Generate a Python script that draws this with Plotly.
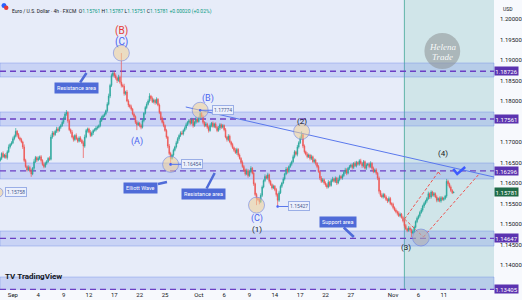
import pandas as pd
import plotly.graph_objects as go

# ---------------- data (EUR/USD, 4h, FXCM) ----------------
# 4h closes in pips above 1.1000 (e.g. 668 -> 1.1668); one row per trading day
close_pips = [
    660, 672, 664,                      # Aug 28 (12:00-20:00)
    668, 662, 676, 688, 694, 698,       # Aug 29
    708, 714, 726, 718, 710, 706,       # Sep 1
    700, 688, 655, 640, 632, 638,       # Sep 2
    630, 622, 636, 652, 662, 656,       # Sep 3
    660, 664, 655, 645, 640, 648,       # Sep 4
    652, 660, 658, 712, 722, 718,       # Sep 5
    726, 732, 728, 736, 740, 748,       # Sep 8
    758, 768, 772, 752, 730, 724,       # Sep 9
    712, 706, 716, 708, 702, 710,       # Sep 10
    704, 698, 690, 712, 728, 732,       # Sep 11
    724, 716, 722, 728, 730, 734,       # Sep 12
    736, 740, 752, 760, 764, 768,       # Sep 15
    776, 792, 812, 838, 862, 868,       # Sep 16
    862, 856, 850, 858, 846, 838,       # Sep 17
    836, 818, 822, 800, 790, 786,       # Sep 18
    780, 768, 762, 748, 742, 746,       # Sep 19
    740, 736, 752, 770, 784, 792,       # Sep 22
    800, 812, 806, 798, 802, 796,       # Sep 23
    804, 790, 772, 758, 748, 740,       # Sep 24
    728, 712, 690, 672, 660, 668,       # Sep 25
    680, 688, 698, 708, 716, 722,       # Sep 26
    720, 728, 734, 742, 748, 752,       # Sep 29
    746, 754, 740, 748, 756, 750,       # Sep 30
    758, 770, 762, 748, 740, 744,       # Oct 1
    736, 728, 740, 746, 738, 744,       # Oct 2
    736, 728, 734, 742, 736, 740,       # Oct 3
    730, 712, 706, 714, 700, 694,       # Oct 6
    686, 680, 674, 682, 668, 660,       # Oct 7
    650, 640, 632, 622, 630, 618,       # Oct 8
    628, 636, 624, 598, 572, 562,       # Oct 9
    560, 554, 570, 590, 606, 616,       # Oct 10
    612, 620, 604, 596, 588, 592,       # Oct 13
    584, 572, 558, 576, 592, 600,       # Oct 14
    610, 622, 634, 628, 640, 646,       # Oct 15
    652, 664, 676, 670, 688, 698,       # Oct 16
    710, 718, 690, 676, 670, 664,       # Oct 17
    668, 660, 664, 652, 656, 648,       # Oct 20
    640, 628, 612, 604, 608, 600,       # Oct 21
    596, 590, 602, 594, 606, 610,       # Oct 22
    604, 612, 600, 608, 616, 612,       # Oct 23
    618, 626, 632, 624, 636, 640,       # Oct 24
    644, 638, 648, 642, 650, 646,       # Oct 27
    654, 648, 642, 652, 636, 644,       # Oct 28
    646, 640, 648, 636, 628, 632,       # Oct 29
    624, 612, 580, 570, 566, 572,       # Oct 30
    566, 560, 556, 562, 550, 548,       # Oct 31
    540, 534, 530, 526, 520, 524,       # Nov 3
    516, 508, 496, 488, 484, 490,       # Nov 4
    486, 478, 482, 492, 506, 514,       # Nov 5
    520, 528, 534, 544, 550, 556,       # Nov 6
    562, 574, 566, 578, 570, 574,       # Nov 7
    566, 558, 562, 556, 564, 560,       # Nov 10
    562, 568, 604, 598, 590, 582,       # Nov 11
    576.1, 578.1,                       # Nov 12 (00:00, 04:00)
]
# upper / lower wick length beyond the candle body, in pips
up_wick_pips = [
    4, 3, 5,
    3, 5, 4, 6, 3, 4,
    5, 4, 8, 3, 4, 3,
    4, 3, 6, 4, 3, 5,
    4, 5, 3, 6, 4, 3,
    5, 3, 4, 3, 5, 4,
    4, 3, 5, 6, 5, 4,
    3, 5, 4, 3, 4, 5,
    4, 5, 6, 3, 4, 3,
    5, 4, 3, 5, 3, 4,
    4, 3, 5, 6, 4, 3,
    3, 5, 4, 3, 4, 5,
    4, 3, 5, 4, 3, 4,
    3, 5, 6, 4, 5, 6,
    4, 5, 3, 6, 4, 71,
    4, 6, 3, 5, 4, 3,
    5, 3, 4, 3, 5, 4,
    3, 4, 5, 3, 4, 5,
    4, 7, 3, 5, 4, 3,
    5, 3, 4, 3, 4, 5,
    3, 4, 3, 5, 4, 3,
    4, 3, 5, 4, 3, 4,
    5, 3, 4, 5, 3, 4,
    4, 5, 3, 4, 5, 3,
    4, 7.4, 3, 4, 3, 5,
    3, 4, 5, 3, 4, 3,
    4, 3, 5, 4, 3, 4,
    3, 4, 3, 5, 4, 3,
    4, 3, 5, 4, 3, 4,
    3, 5, 4, 3, 5, 4,
    4, 5, 3, 4, 3, 4,
    3, 4, 5, 4, 3, 5,
    4, 5, 3, 4, 3, 4,
    3, 4, 3, 5, 4, 3,
    4, 3, 5, 4, 3, 4,
    3, 5, 4, 3, 5, 4,
    4, 8, 3, 4, 3, 5,
    4, 3, 5, 3, 4, 3,
    3, 4, 3, 5, 4, 3,
    4, 3, 5, 3, 4, 5,
    3, 4, 3, 5, 4, 3,
    4, 3, 5, 4, 3, 4,
    3, 4, 3, 5, 4, 3,
    4, 5, 3, 4, 3, 4,
    3, 4, 5, 3, 4, 3,
    4, 3, 4, 3, 5, 4,
    3, 4, 3, 5, 4, 3,
    4, 3, 4, 3, 5, 4,
    3, 4, 3, 4, 3, 5,
    4, 3, 5, 4, 3, 4,
    3, 4, 5, 3, 4, 3,
    4, 5, 3, 4, 3, 4,
    3, 4, 3, 5, 4, 3,
    4, 3, 6, 4, 3, 4,
    3, 0.6,
]
down_wick_pips = [
    3, 4, 3,
    4, 3, 5, 3, 4, 3,
    3, 4, 3, 5, 3, 4,
    3, 5, 4, 3, 4, 3,
    4, 7, 3, 4, 3, 5,
    3, 4, 5, 3, 4, 3,
    4, 3, 4, 3, 4, 5,
    3, 4, 5, 3, 4, 3,
    4, 3, 4, 5, 3, 4,
    3, 5, 4, 3, 4, 3,
    4, 3, 29, 4, 3, 5,
    3, 4, 3, 5, 3, 4,
    4, 3, 4, 3, 4, 3,
    3, 4, 3, 5, 4, 3,
    5, 4, 6, 3, 4, 5,
    3, 5, 4, 3, 5, 4,
    4, 3, 5, 4, 13, 3,
    4, 5, 3, 4, 3, 4,
    3, 4, 5, 3, 4, 5,
    4, 3, 4, 5, 3, 4,
    3, 4, 5, 4, 14.6, 3,
    4, 3, 4, 3, 5, 4,
    3, 4, 3, 4, 3, 5,
    4, 3, 5, 3, 4, 3,
    3, 4, 3, 5, 4, 3,
    4, 5, 3, 4, 3, 4,
    3, 4, 3, 5, 4, 3,
    4, 3, 5, 4, 3, 5,
    3, 4, 3, 5, 4, 3,
    4, 3, 5, 4, 3, 5,
    3, 4, 3, 5, 4, 16,
    4, 6, 3, 4, 3, 4,
    3, 4, 5, 3, 4, 3,
    4, 5, 15.3, 4, 3, 4,
    3, 4, 3, 5, 4, 3,
    4, 3, 4, 3, 5, 4,
    3, 4, 5, 4, 3, 4,
    3, 5, 4, 3, 4, 5,
    4, 3, 5, 4, 3, 4,
    5, 4, 3, 4, 3, 4,
    3, 4, 5, 3, 4, 3,
    4, 3, 4, 5, 3, 4,
    3, 5, 4, 3, 4, 3,
    4, 3, 5, 4, 3, 4,
    3, 4, 3, 5, 4, 3,
    4, 5, 6, 4, 3, 4,
    3, 4, 5, 3, 4, 5,
    4, 3, 4, 5, 3, 4,
    3, 4, 5, 3, 4, 3,
    4, 10, 3, 4, 3, 4,
    3, 4, 3, 4, 5, 3,
    4, 3, 5, 4, 3, 4,
    3, 5, 4, 3, 4, 3,
    4, 3, 4, 5, 3, 4,
    3, 1.0,
]
first_open_pips = 655

levels = [1.18726, 1.17561, 1.16296, 1.14647, 1.13405]
level_labels = ["1.18726", "1.17561", "1.16296", "1.14647", "1.13405"]
band_lo = [1.18585, 1.17390, 1.16098, 1.14463, 1.13300]
band_hi = [1.18927, 1.17732, 1.16488, 1.14829, 1.13707]
last_price = 1.15781

price_ticks = [1.200, 1.195, 1.190, 1.185, 1.180, 1.170, 1.165,
               1.160, 1.155, 1.150, 1.145, 1.140]
tick_dates = ["2025-09-01", "2025-09-04", "2025-09-09", "2025-09-12", "2025-09-17",
              "2025-09-22", "2025-09-25", "2025-10-01", "2025-10-06", "2025-10-09",
              "2025-10-14", "2025-10-17", "2025-10-22", "2025-10-27", "2025-11-03",
              "2025-11-06", "2025-11-11"]
tick_text = ["Sep", "4", "9", "12", "17", "22", "25", "Oct", "6", "9",
             "14", "17", "22", "27", "Nov", "6", "11"]

# ---------------- build candles ----------------
days = pd.bdate_range("2025-08-28", "2025-11-12")
slots = [d + pd.Timedelta(hours=h) for d in days for h in range(0, 24, 4)]
times = slots[3:3 + len(close_pips)]

open_pips = [first_open_pips] + close_pips[:-1]
high_pips = [max(o, c) + u for o, c, u in zip(open_pips, close_pips, up_wick_pips)]
low_pips = [min(o, c) - w for o, c, w in zip(open_pips, close_pips, down_wick_pips)]
to_price = lambda v: round(1.1 + v / 10000.0, 5)
O = [to_price(v) for v in open_pips]
H = [to_price(v) for v in high_pips]
L = [to_price(v) for v in low_pips]
C = [to_price(v) for v in close_pips]

def at(ts):
    return times.index(pd.Timestamp(ts))

FONT = "Roboto, sans-serif"
PW, PH = 497.0, 290.0
def px(x): return x / PW
def py(y): return 1 - y / PH

fig = go.Figure(go.Candlestick(
    x=times, open=O, high=H, low=L, close=C,
    increasing=dict(line=dict(color="#26a69a", width=0.7), fillcolor="#26a69a"),
    decreasing=dict(line=dict(color="#ef5350", width=0.7), fillcolor="#ef5350"),
    whiskerwidth=0, showlegend=False, hoverinfo="skip"))

x_start, x_end = "2025-08-28 11:18", "2025-11-18 22:35"
shapes = []
annots = []

# green highlighted region + vertical marker
mark_t = "2025-11-04 08:00"
shapes.append(dict(type="rect", xref="x", yref="paper", x0=mark_t, x1=x_end, y0=0, y1=1,
                   fillcolor="rgba(140,210,185,0.24)", line=dict(width=0), layer="below"))
shapes.append(dict(type="line", xref="x", yref="paper", x0=mark_t, x1=mark_t, y0=0, y1=1,
                   line=dict(color="#5fb3a8", width=1), layer="below"))

# horizontal zones
for lo, hi in zip(band_lo, band_hi):
    shapes.append(dict(type="rect", xref="paper", yref="y", x0=0, x1=1, y0=lo, y1=hi,
                       fillcolor="rgba(95,125,230,0.22)",
                       line=dict(color="rgba(95,125,230,0.35)", width=1), layer="below"))
for lv in levels:
    shapes.append(dict(type="line", xref="paper", yref="y", x0=0, x1=1, y0=lv, y1=lv,
                       line=dict(color="#6c3fc4", width=1.3, dash="6px,4px"), layer="below"))

# descending trend line
shapes.append(dict(type="line", xref="x", yref="y", x0="2025-09-29 11:00", y0=1.17854,
                   x1=x_end, y1=1.16146, line=dict(color="#5a78ec", width=1)))

# red dashed channel (paper coords)
for (a, b), (c, d) in [((407, 219), (441, 172)), ((441, 172), (444, 176)),
                       ((407, 219), (426, 237)), ((426, 237), (482, 174))]:
    shapes.append(dict(type="line", xref="paper", yref="paper", x0=px(a), y0=py(b),
                       x1=px(c), y1=py(d), line=dict(color="#ef5350", width=1, dash="3px,2px")))

# blue check mark
shapes.append(dict(type="path", xref="paper", yref="paper",
                   path=f"M {px(456)},{py(169)} L {px(460)},{py(174)} L {px(468)},{py(167)}",
                   line=dict(color="#3d5afe", width=2.5)))

def circle(t, p, r=8, fill="rgba(238,208,150,0.55)"):
    shapes.append(dict(type="circle", xref="x", yref="y", xsizemode="pixel", ysizemode="pixel",
                       xanchor=t, yanchor=p, x0=-r, x1=r, y0=-r, y1=r,
                       fillcolor=fill, line=dict(color="rgba(100,125,230,0.55)", width=1)))

def label(text, t, p, color, size=9, dx=0, dy=0, bold=False):
    annots.append(dict(x=t, y=p, xref="x", yref="y", text=f"<b>{text}</b>" if bold else text,
                       showarrow=False, xshift=dx, yshift=dy,
                       font=dict(family=FONT, size=size, color=color)))

def price_tag(t, p, text, dx=22):
    shapes.append(dict(type="circle", xref="x", yref="y", xsizemode="pixel", ysizemode="pixel",
                       xanchor=t, yanchor=p, x0=-1.3, x1=1.3, y0=-1.3, y1=1.3,
                       fillcolor="#3d5afe", line=dict(width=0)))
    annots.append(dict(x=t, y=p, xref="x", yref="y", text=text, showarrow=True,
                       ax=dx, ay=0, arrowhead=0, arrowwidth=1, arrowcolor="#5a78ec",
                       standoff=0, bgcolor="rgba(236,240,252,0.95)", bordercolor="#9aaee6",
                       borderwidth=1, borderpad=1, font=dict(family=FONT, size=5, color="#4a5a90")))

BLUE, RED, DARK = "#4a63f0", "#e53935", "#202124"

# (B)/(C) spike
i = at("2025-09-17 20:00")
circle(times[i], H[i])
label("(C)", times[i], H[i], BLUE, 10, dy=11)
label("(B)", times[i], H[i], RED, 10, dy=22)
# (A)
i = at("2025-09-19 16:00")
label("(A)", times[i], L[i], BLUE, 9, dy=-11)
# Sep 25 low
i = at("2025-09-25 16:00")
circle(times[i], L[i])
price_tag(times[i], L[i], "1.16454", dx=21)
# (B) Oct 1
i = at("2025-10-01 04:00")
circle(times[i], H[i])
price_tag(times[i], H[i], "1.17774", dx=23)
label("(B)", times[i], H[i], BLUE, 9, dx=8, dy=12)
# (C)/(1)
i = at("2025-10-09 20:00")
circle(times[i], L[i])
label("(C)", times[i], L[i], BLUE, 9, dy=-13)
label("(1)", times[i], L[i], DARK, 8, dy=-24)
# Oct 14 low
i = at("2025-10-14 08:00")
price_tag(times[i], L[i], "1.15427", dx=21)
# (2)
i = at("2025-10-17 04:00")
circle(times[i], H[i])
label("(2)", times[i], H[i], DARK, 8, dy=10)
# (3)
i = at("2025-11-05 04:00")
label("(3)", times[i], L[i], DARK, 8, dx=-5, dy=-10)
shapes.append(dict(type="circle", xref="paper", yref="paper", x0=px(415), x1=px(432),
                   y0=py(246), y1=py(229), fillcolor="rgba(175,172,178,0.6)",
                   line=dict(color="rgba(100,125,230,0.55)", width=1)))
# (4)
annots.append(dict(x=px(453), y=py(153), xref="paper", yref="paper", text="(4)",
                   showarrow=False, font=dict(family=FONT, size=8, color=DARK)))

# callout boxes
def callout(text, tip, center):
    annots.append(dict(x=px(tip[0]), y=py(tip[1]), xref="paper", yref="paper", text=text,
                       showarrow=True, ax=center[0] - tip[0], ay=center[1] - tip[1],
                       arrowhead=0, arrowwidth=2.5, arrowcolor="#4f6bd8", standoff=0,
                       bgcolor="#4f6bd8", borderpad=2,
                       font=dict(family=FONT, size=5.5, color="white")))

callout("Resistance area", (87, 73), (77, 88))
callout("Elliott Wave", (168, 182), (142, 188))
callout("Resistance area", (216, 173), (205, 194))
callout("Support area", (356, 237), (340, 222))

# left edge price tag
shapes.append(dict(type="circle", xref="paper", yref="paper", x0=px(-6), x1=px(3),
                   y0=py(197), y1=py(188), fillcolor="rgba(238,208,150,0.55)",
                   line=dict(color="rgba(100,125,230,0.55)", width=1)))
annots.append(dict(x=px(5), y=py(192), xref="paper", yref="paper", xanchor="left",
                   text="1.15758", showarrow=False, bgcolor="rgba(236,240,252,0.95)",
                   bordercolor="#9aaee6", borderwidth=1, borderpad=1,
                   font=dict(family=FONT, size=5, color="#4a5a90")))

# right axis level tags
for lv, txt in zip(levels, level_labels):
    annots.append(dict(x=1, y=lv, xref="paper", yref="y", xanchor="left", text=txt,
                       showarrow=False, bgcolor="#5b33b0", width=23, height=8, borderpad=0,
                       font=dict(family=FONT, size=6, color="white")))
annots.append(dict(x=1, y=last_price, xref="paper", yref="y", xanchor="left",
                   text=f"{last_price:.5f}", showarrow=False, bgcolor="#1f6b47",
                   width=23, height=8, borderpad=0, font=dict(family=FONT, size=6, color="white")))
annots.append(dict(x=px(504), y=py(4), xref="paper", yref="paper", xanchor="left", text="USD",
                   showarrow=False, font=dict(family=FONT, size=5, color="#131722")))

# watermark
shapes.append(dict(type="circle", xref="paper", yref="paper", x0=px(427), x1=px(463),
                   y0=py(69), y1=py(33), fillcolor="rgba(140,145,148,0.55)", line=dict(width=0)))
for txt, yy in [("Helena", 47), ("Trade", 57)]:
    annots.append(dict(x=px(445), y=py(yy), xref="paper", yref="paper", text=f"<i>{txt}</i>",
                       showarrow=False, xanchor="center", yanchor="middle",
                       font=dict(family="Liberation Serif, serif", size=9, color="rgba(255,255,255,0.92)")))

# title / header
shapes.append(dict(type="circle", xref="paper", yref="paper", x0=px(1.5), x1=px(6.5),
                   y0=py(8), y1=py(3), fillcolor="#2962ff", line=dict(width=0)))
shapes.append(dict(type="circle", xref="paper", yref="paper", x0=px(4), x1=px(8.5),
                   y0=py(10), y1=py(5.5), fillcolor="#e53935", line=dict(width=0)))
G = "#089981"
hdr = ("Euro / U.S. Dollar · 4h · FXCM&nbsp;&nbsp;"
       f"O<span style='color:{G}'>1.15761</span> H<span style='color:{G}'>1.15787</span> "
       f"L<span style='color:{G}'>1.15751</span> C<span style='color:{G}'>1.15781</span> "
       f"<span style='color:{G}'>+0.00020 (+0.02%)</span>")
annots.append(dict(x=px(10), y=py(6), xref="paper", yref="paper", xanchor="left", text=hdr,
                   showarrow=False, font=dict(family=FONT, size=5, color="#131722")))

# TradingView logo
annots.append(dict(x=px(3), y=py(283), xref="paper", yref="paper", xanchor="left",
                   text="<b>TV</b> <b>TradingView</b>", showarrow=False,
                   font=dict(family=FONT, size=8, color="#131722")))

fig.update_layout(
    width=522, height=300,
    margin=dict(l=0, r=25, t=0, b=10, pad=0),
    paper_bgcolor="#f7f9fd", plot_bgcolor="#e7ecf9",
    shapes=shapes, annotations=annots, showlegend=False,
    xaxis=dict(type="date", range=[x_start, x_end], rangebreaks=[dict(bounds=["sat", "mon"])],
               tickvals=tick_dates, ticktext=tick_text, showgrid=False, zeroline=False,
               showline=False, ticks="", tickfont=dict(family=FONT, size=6, color="#131722"),
               rangeslider=dict(visible=False), fixedrange=True),
    yaxis=dict(side="right", range=[1.133902, 1.204634], tickvals=price_ticks,
               ticktext=[f"{v:.5f}" for v in price_ticks], showgrid=False, zeroline=False,
               ticks="", ticklabelstandoff=5,
               tickfont=dict(family=FONT, size=6, color="#131722"), fixedrange=True),
)

fig.write_html("out.html", config={"displayModeBar": False})
